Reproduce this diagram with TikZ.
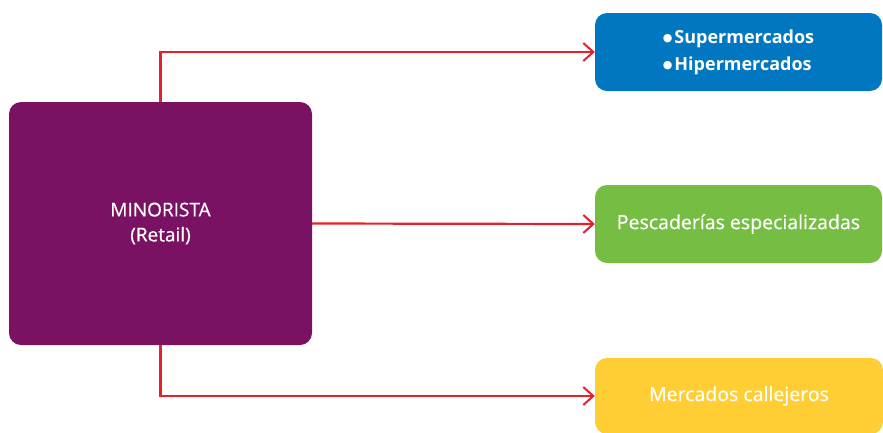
\documentclass[tikz,border=0pt]{standalone}
\usepackage{fontspec}
\setmainfont{Open Sans}[FakeBold=0.6,BoldFeatures={FakeBold=0}]
\newfontfamily\djv{DejaVu Sans}
\usetikzlibrary{arrows.meta}
\definecolor{cpurple}{HTML}{7B1163}
\definecolor{cblue}{HTML}{0077C0}
\definecolor{cgreen}{HTML}{76BE43}
\definecolor{cyellow}{HTML}{FFCD34}
\definecolor{cred}{HTML}{E8202A}
\newcommand\bul{\raisebox{1.5pt}{\djv\fontsize{11}{11}\selectfont ●}\hspace{2pt}}
\tikzset{
  box/.style={rectangle, rounded corners=12pt, text=white, inner sep=0pt, align=center},
  arr/.style={draw=cred, line width=2.2pt, -{Straight Barb[length=10pt,width=18pt,line width=2pt]}}
}
\begin{document}
\begin{tikzpicture}[x=1pt,y=-1pt]
\useasboundingbox (0,0) rectangle (883,432);
\node[box, fill=cpurple, minimum width=303pt, minimum height=243pt, font=\fontsize{19}{25}\selectfont] (m) at (160.5,223.5) {MINORISTA\\(Retail)};
\node[box, fill=cblue, minimum width=287pt, minimum height=78pt, font=\bfseries\fontsize{18}{27}\selectfont, align=left] (b) at (738.5,52) {\bul Supermercados\\\bul Hipermercados};
\node[box, fill=cgreen, minimum width=287pt, minimum height=78pt, font=\fontsize{19.5}{21}\selectfont] (g) at (738.5,224) {Pescaderías especializadas};
\node[box, fill=cyellow, minimum width=288pt, minimum height=76pt, font=\fontsize{19.5}{21}\selectfont] (y) at (739,396) {Mercados callejeros};
\draw[arr] (m.north) |- (b.west);
\draw[arr] (m.east) -- (g.west);
\draw[arr] (m.south) |- (y.west);
\end{tikzpicture}
\end{document}
